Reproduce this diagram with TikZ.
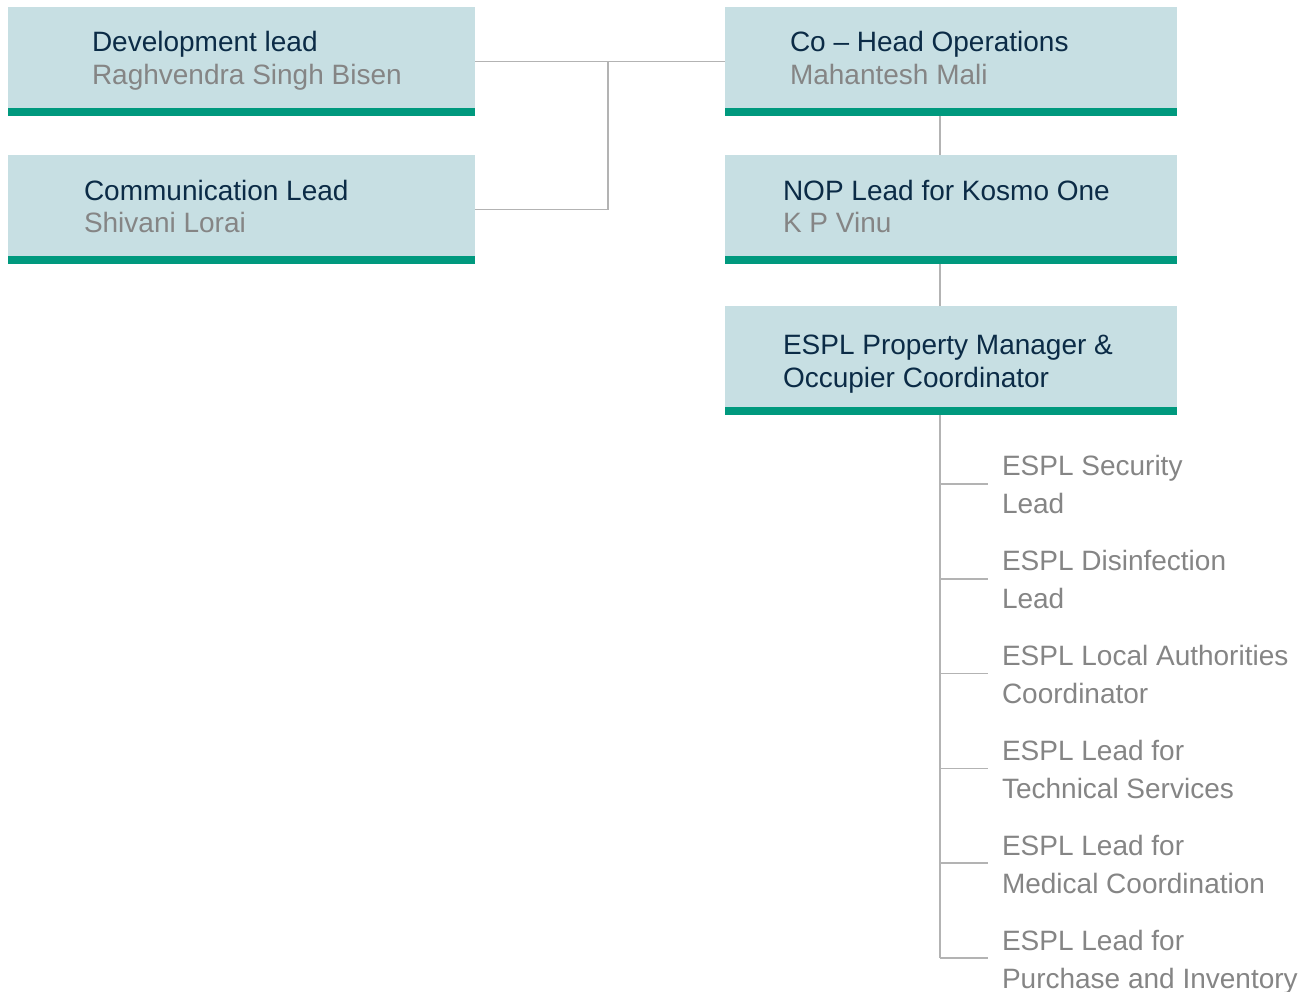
\documentclass[tikz,border=0pt]{standalone}
\usepackage{fontspec}
\setmainfont{Liberation Sans}
\usepackage{xcolor}
\usepackage{tikz}

\begin{document}
\begin{tikzpicture}[x=0.75pt, y=-0.75pt,
    every node/.style={inner sep=0pt, outer sep=0pt}]
    % Define colors
    \definecolor{boxfill}{HTML}{C7DFE3}
    \definecolor{barcolor}{HTML}{00997E}
    \definecolor{titlecolor}{HTML}{0B2B46}
    \definecolor{namecolor}{HTML}{858585}
    \definecolor{linkcolor}{HTML}{B3B3B3}
    \tikzset{
        orgbox/.style={anchor=north west, fill=boxfill, minimum height=81.75pt,
            path picture={\fill[barcolor] (path picture bounding box.south west)
                rectangle ([yshift=6pt]path picture bounding box.south east);}},
        title/.style={anchor=base west, text=titlecolor, font=\fontsize{21}{25}\selectfont},
        person/.style={anchor=base west, text=namecolor, font=\fontsize{21}{25}\selectfont},
        item/.style={anchor=base west, text=namecolor, font=\fontsize{21}{25}\selectfont},
        link/.style={draw=linkcolor, line width=1.2pt}
    }
    \useasboundingbox (0,0) rectangle (1308,991);

    % Left column
    \node[orgbox, minimum width=350.25pt] (dev) at (8,7) {};
    \node[title] (devtitle) at (92,52) {Development lead};
    \node[person] (devname) at (92,85) {Raghvendra Singh Bisen};

    \node[orgbox, minimum width=350.25pt] (comm) at (8,155) {};
    \node[title] (commtitle) at (84,200) {Communication Lead};
    \node[person] (commname) at (84,233) {Shivani Lorai};

    % Right column
    \node[orgbox, minimum width=339pt] (cohead) at (725,7) {};
    \node[title] (coheadtitle) at (790,52) {Co -- Head Operations};
    \node[person] (coheadname) at (790,85) {Mahantesh Mali};

    \node[orgbox, minimum width=339pt] (nop) at (725,155) {};
    \node[title] (noptitle) at (783,200) {NOP Lead for Kosmo One};
    \node[person] (nopname) at (783,233) {K P Vinu};

    \node[orgbox, minimum width=339pt] (pm) at (725,306) {};
    \node[title] (pmtitle) at (783,354) {ESPL Property Manager \&};
    \node[title] (pmtitleb) at (783,387) {Occupier Coordinator};

    % Connectors
    \coordinate (joint) at (608,62);
    \coordinate (spine) at (940,0);
    \draw[link] (dev.east) -- (cohead.west);
    \draw[link] (comm.east) -| (joint);
    \draw[link] (cohead.south -| spine) -- (nop.north -| spine);
    \draw[link] (nop.south -| spine) -- (pm.north -| spine);

    % Team leads under the property manager
    \foreach \i/\first/\second in {0/ESPL Security/Lead,
        1/ESPL Disinfection/Lead,
        2/ESPL Local Authorities/Coordinator,
        3/ESPL Lead for/Technical Services,
        4/ESPL Lead for/Medical Coordination,
        5/ESPL Lead for/Purchase and Inventory}{
        \coordinate (tick\i) at (988,484+94.8*\i);
        \node[item] (item\i) at (1002,475+95*\i) {\first};
        \node[item] (itemb\i) at (1002,513+95*\i) {\second};
        \draw[link] (spine |- tick\i) -- (tick\i);
    }
    \draw[link] (pm.south -| spine) -- (spine |- tick5);
\end{tikzpicture}
\end{document}
